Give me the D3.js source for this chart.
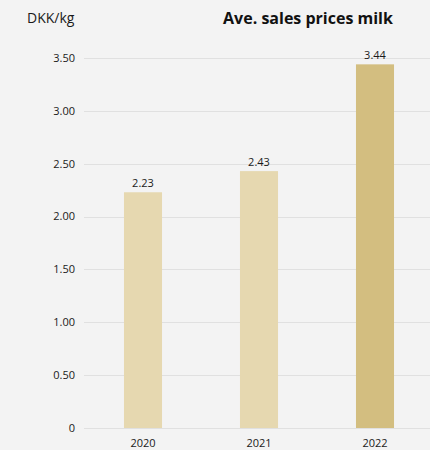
<!DOCTYPE html>
<html>
<head>
<meta charset="utf-8">
<script src="https://cdn.jsdelivr.net/npm/d3@7"></script>
<style>
  html, body { margin: 0; padding: 0; background: #f3f3f3; }
  svg { display: block; font-family: "Open Sans", sans-serif; }
</style>
</head>
<body>
<svg id="chart" width="430" height="450"></svg>
<script>
// Average milk sales price per year
const years = ["2020", "2021", "2022"];
const prices = [2.23, 2.43, 3.44];
const barColors = ["#e6d8b0", "#e6d8b0", "#d3be80"];
const yTicks = [0, 0.5, 1, 1.5, 2, 2.5, 3, 3.5];
const yTickLabels = ["0", "0.50", "1.00", "1.50", "2.00", "2.50", "3.00", "3.50"];

(function () {
  const svg = d3.select("#chart");
  const W = 430;
  const plotLeft = 85, plotRight = 433, plotTop = 58, plotBottom = 428;

  const x = d3.scaleBand().domain(years).range([plotLeft, plotRight]).paddingInner(0.672).paddingOuter(0.336);
  const y = d3.scaleLinear().domain([0, 3.5]).range([plotBottom, plotTop]);

  // Gridlines
  svg.append("g")
    .selectAll("line")
    .data(yTicks)
    .join("line")
    .attr("x1", plotLeft - 1)
    .attr("x2", W)
    .attr("y1", d => Math.round(y(d)) + 0.5)
    .attr("y2", d => Math.round(y(d)) + 0.5)
    .attr("stroke", "#e0e0e0")
    .attr("stroke-width", 1);

  // Y axis labels
  svg.append("g")
    .selectAll("text")
    .data(yTicks)
    .join("text")
    .attr("x", 75)
    .attr("y", d => y(d))
    .attr("dy", "0.35em")
    .attr("text-anchor", "end")
    .attr("font-size", 11)
    .attr("fill", "#1a1a1a")
    .text((d, i) => yTickLabels[i]);

  // Bars
  svg.append("g")
    .selectAll("rect")
    .data(years)
    .join("rect")
    .attr("x", d => x(d))
    .attr("width", x.bandwidth())
    .attr("y", (d, i) => y(prices[i]))
    .attr("height", (d, i) => y(0) - y(prices[i]))
    .attr("fill", (d, i) => barColors[i]);

  // Value labels
  svg.append("g")
    .selectAll("text")
    .data(years)
    .join("text")
    .attr("x", d => x(d) + x.bandwidth() / 2)
    .attr("y", (d, i) => y(prices[i]) - 5)
    .attr("text-anchor", "middle")
    .attr("font-size", 11)
    .attr("fill", "#1a1a1a")
    .text((d, i) => prices[i].toFixed(2));

  // X axis labels
  svg.append("g")
    .selectAll("text")
    .data(years)
    .join("text")
    .attr("x", d => x(d) + x.bandwidth() / 2)
    .attr("y", 447)
    .attr("text-anchor", "middle")
    .attr("font-size", 11)
    .attr("fill", "#1a1a1a")
    .text(d => d);

  // Unit and title
  svg.append("text")
    .attr("x", 27)
    .attr("y", 23)
    .attr("font-size", 14)
    .attr("fill", "#1a1a1a")
    .text("DKK/kg");

  svg.append("text")
    .attr("x", 308)
    .attr("y", 24)
    .attr("text-anchor", "middle")
    .attr("font-size", 16)
    .attr("font-weight", "bold")
    .attr("fill", "#111")
    .text("Ave. sales prices milk");
})();
</script>
</body>
</html>
